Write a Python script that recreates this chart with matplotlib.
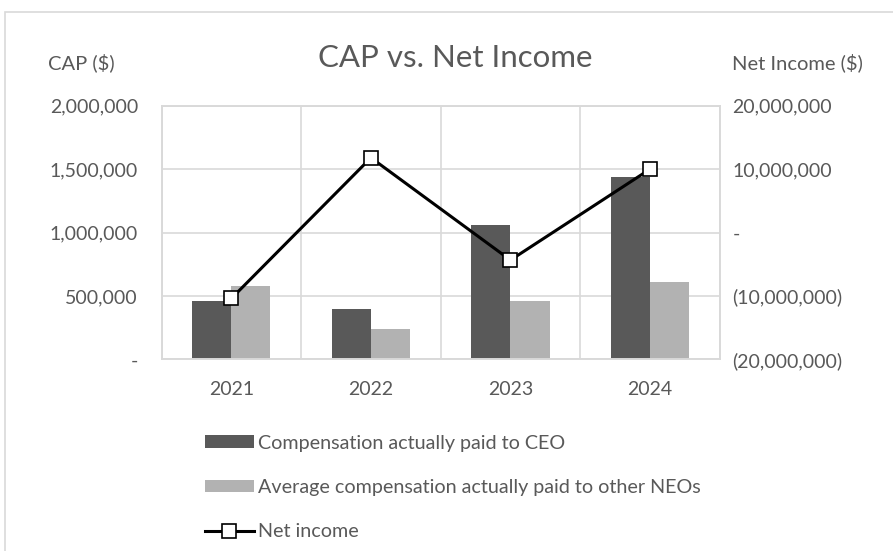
import matplotlib.pyplot as plt
from matplotlib.patches import Rectangle
from matplotlib.ticker import FuncFormatter
import numpy as np

years = ["2021", "2022", "2023", "2024"]
ceo_cap = [458000, 397000, 1059000, 1441000]
neo_avg_cap = [577000, 237000, 458000, 611000]
net_income = [-10400000, 11800000, -4350000, 10000000]

plt.rcParams["font.family"] = ["Lato", "DejaVu Sans"]
txt = "#595959"

fig = plt.figure(figsize=(8.93, 5.51), dpi=100)
ax = fig.add_axes([0.181, 0.348, 0.625, 0.46])
ax2 = ax.twinx()

x = np.arange(len(years))
w = 0.28
ax.bar(x - w / 2, ceo_cap, w, color="#595959", label="Compensation actually paid to CEO", zorder=2)
ax.bar(x + w / 2, neo_avg_cap, w, color="#b2b2b2", label="Average compensation actually paid to other NEOs", zorder=2)
ax2.plot(x, net_income, color="black", lw=2.2, marker="s", markersize=10,
         markerfacecolor="white", markeredgecolor="black", markeredgewidth=1.2,
         label="Net income", zorder=3)

ax.set_xlim(-0.5, 3.5)
ax.set_ylim(0, 2000000)
ax2.set_ylim(-20000000, 20000000)
ax.set_yticks([0, 500000, 1000000, 1500000, 2000000])
ax2.set_yticks([-20000000, -10000000, 0, 10000000, 20000000])
ax.set_xticks(x)
ax.set_xticklabels(years)
ax.set_xticks(np.arange(-0.5, 4.0, 1.0), minor=True)


def left_fmt(v, pos):
    return "-" if v == 0 else f"{int(v):,}"


def right_fmt(v, pos):
    if v == 0:
        return "-"
    if v < 0:
        return f"({int(-v):,})"
    return f"{int(v):,}"


ax.yaxis.set_major_formatter(FuncFormatter(left_fmt))
ax2.yaxis.set_major_formatter(FuncFormatter(right_fmt))

ax.grid(True, axis="y", color="#d9d9d9", lw=1.2, zorder=0)
ax.grid(True, axis="x", which="minor", color="#d9d9d9", lw=1.2, zorder=0)
for a in (ax, ax2):
    for s in a.spines.values():
        s.set_color("#d9d9d9")
        s.set_linewidth(1.2)
    a.tick_params(length=0, colors=txt, labelsize=14)
ax.tick_params(which="minor", length=0)
ax.tick_params(axis="y", pad=17)
ax2.tick_params(axis="y", pad=9)
ax.tick_params(axis="x", pad=16)
ax.set_axisbelow(True)

fig.text(0.51, 0.895, "CAP vs. Net Income", ha="center", va="center", fontsize=22.5, color=txt)
fig.text(0.054, 0.886, "CAP ($)", ha="left", va="center", fontsize=14.5, color=txt)
fig.text(0.82, 0.886, "Net Income ($)", ha="left", va="center", fontsize=14.5, color=txt)

fig.patches.append(Rectangle((5 / 893, -0.01), 1.0, 1 - 12 / 551 + 0.01,
                             transform=fig.transFigure, fill=False,
                             edgecolor="#d9d9d9", lw=1.2))

h1, l1 = ax.get_legend_handles_labels()
h2, l2 = ax2.get_legend_handles_labels()
fig.legend(h1 + h2, l1 + l2, loc="upper left", bbox_to_anchor=(0.218, 0.229),
           frameon=False, fontsize=14.2, labelcolor=txt, handlelength=2.5,
           handleheight=0.6, handletextpad=0.2, labelspacing=1.38, borderpad=0)

fig.savefig("out.png", dpi=100)
